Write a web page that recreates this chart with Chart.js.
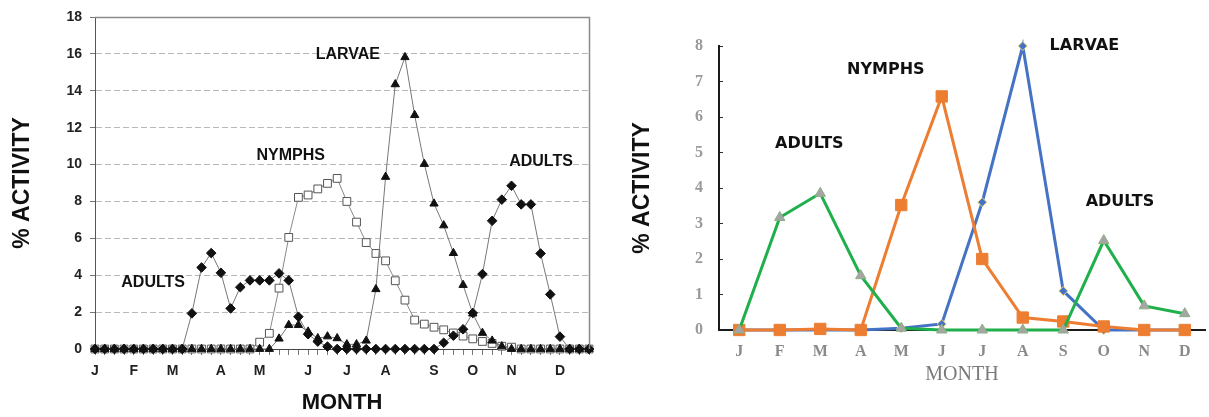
<!DOCTYPE html>
<html>
<head>
<meta charset="utf-8">
<script src="https://cdn.jsdelivr.net/npm/chart.js@4.4.1/dist/chart.umd.min.js"></script>
<style>
html,body{margin:0;padding:0;background:#fff;overflow:hidden;width:1209px;height:417px;position:relative;}
#c1{position:absolute;left:0;top:0;}
#c2{position:absolute;left:600px;top:0;}
</style>
</head>
<body>
<canvas id="c1" width="600" height="417"></canvas>
<canvas id="c2" width="614" height="417"></canvas>
<script>
// ---------- Left chart (weekly data, 52 weeks) ----------
const monthLetters = ['J','F','M','A','M','J','J','A','S','O','N','D'];
const monthStartWeek = [0,4,8,13,17,22,26,30,35,39,43,48];
const weekCount = 52;

const adultsWeekly = [0,0,0,0,0,0,0,0,0,0, 1.93,4.42,5.2,4.13,2.2,3.35,3.72,3.72,3.72,4.1,
  3.72,1.75,0.8,0.4,0.13,0,0,0,0,0, 0,0,0,0,0,0,0.34,0.72,1.07,1.95,
  4.06,6.95,8.1,8.85,7.84,7.84,5.18,2.96,0.67,0, 0,0];
const larvaeWeekly = [0,0,0,0,0,0,0,0,0,0, 0,0,0,0,0,0,0,0,0,0.56,
  1.3,1.3,0.94,0.58,0.68,0.58,0.25,0.25,0.45,3.24, 9.33,14.35,15.82,12.68,10.03,7.88,6.7,5.2,3.47,1.92,
  0.87,0.45,0.14,0,0,0,0,0,0,0, 0,0];
const nymphsWeekly = [0,0,0,0,0,0,0,0,0,0, 0,0,0,0,0,0,0,0.37,0.85,3.3,
  6.05,8.22,8.35,8.68,8.98,9.25,8.0,6.88,5.77,5.18, 4.78,3.7,2.65,1.57,1.35,1.18,1.04,0.87,0.7,0.55,
  0.41,0.3,0.15,0.1,0,0,0,0,0,0, 0,0];

const leftNotes = [
  {text:'ADULTS', x:6.0, y:3.6},
  {text:'NYMPHS', x:20.2, y:10.5},
  {text:'LARVAE', x:26.1, y:15.95},
  {text:'ADULTS', x:46.05, y:10.14}
];

// ---------- Right chart (monthly data) ----------
const months = ['J','F','M','A','M','J','J','A','S','O','N','D'];
const larvaeMonthly = [0,0,0,0,0.05,0.17,3.6,8.0,1.1,0,0,0];
const nymphsMonthly = [0,0,0.03,0,3.52,6.58,2.0,0.35,0.24,0.1,0,0];
const adultsMonthly = [0,3.17,3.85,1.53,0.05,0,0,0,0,2.52,0.68,0.46];

const rightNotes = [
  {text:'ADULTS', x:1.73, y:5.24},
  {text:'NYMPHS', x:3.62, y:7.32},
  {text:'LARVAE', x:8.52, y:8.01},
  {text:'ADULTS', x:9.4, y:3.62}
];

const weekLabels = Array.from({length: weekCount}, (_, i) => {
  const k = monthStartWeek.indexOf(i);
  return k >= 0 ? monthLetters[k] : '';
});

function notesPlugin(items, font, color) {
  return {
    id: 'notes',
    afterDatasetsDraw(chart) {
      const {ctx, scales: {x, y}} = chart;
      ctx.save();
      ctx.font = font;
      ctx.fillStyle = color;
      ctx.textAlign = 'center';
      ctx.textBaseline = 'middle';
      items.forEach(n => ctx.fillText(n.text, x.getPixelForValue(n.x), y.getPixelForValue(n.y)));
      ctx.restore();
    }
  };
}

const boxPlugin = {
  id: 'box',
  afterDraw(chart) {
    const {ctx, chartArea: a} = chart;
    ctx.save();
    ctx.strokeStyle = '#8a8a8a';
    ctx.lineWidth = 1.5;
    ctx.beginPath();
    ctx.moveTo(a.left, a.top + 0.5);
    ctx.lineTo(a.right + 0.5, a.top + 0.5);
    ctx.lineTo(a.right + 0.5, a.bottom);
    ctx.stroke();
    ctx.restore();
  }
};

const sansB = (s) => ({family: "'Liberation Sans', Arial, sans-serif", size: s, weight: 'bold'});
const serif = (s, w) => ({family: "'Liberation Serif', 'Times New Roman', serif", size: s, weight: w || 'normal'});

// Chart.js draws dataset 0 on top, so the topmost series comes first.
new Chart(document.getElementById('c1'), {
  type: 'line',
  data: {
    labels: weekLabels,
    datasets: [
      {data: adultsWeekly, borderColor: '#777', borderWidth: 1, pointStyle: 'rectRot', pointRadius: 4.8, clip: false,
       pointBackgroundColor: '#111', pointBorderColor: '#111', pointBorderWidth: 1, tension: 0},
      {data: larvaeWeekly, borderColor: '#777', borderWidth: 1, pointStyle: 'triangle', pointRadius: 4.8, clip: false,
       pointBackgroundColor: '#111', pointBorderColor: '#111', pointBorderWidth: 1, tension: 0},
      {data: nymphsWeekly, borderColor: '#8a8a8a', borderWidth: 1, pointStyle: 'rect', pointRadius: 5.5, clip: false,
       pointBackgroundColor: '#fff', pointBorderColor: '#555', pointBorderWidth: 1, tension: 0}
    ]
  },
  options: {
    responsive: false, animation: false, devicePixelRatio: 1,
    layout: {padding: {left: 0, right: 11, top: 17, bottom: 0}},
    plugins: {legend: {display: false}, tooltip: {enabled: false}},
    scales: {
      x: {
        type: 'category', offset: false,
        grid: {display: true, drawOnChartArea: false, drawTicks: true, tickLength: 6, tickColor: '#777', tickWidth: 1},
        border: {display: true, color: '#444', width: 1},
        ticks: {autoSkip: false, maxRotation: 0, minRotation: 0, padding: 8, color: '#222', font: sansB(14)},
        title: {display: true, text: 'MONTH', color: '#111', font: sansB(22), padding: {top: 0, bottom: 1}},
        afterFit(s) { s.height = 68; }
      },
      y: {
        min: 0, max: 18,
        ticks: {stepSize: 2, padding: 8, color: '#222', font: sansB(14)},
        grid: {color: '#b8b8b8', lineWidth: 1, tickLength: 5, tickColor: '#777', tickBorderDash: []},
        border: {display: true, color: '#555', width: 1, dash: [6, 3]},
        title: {display: true, text: '% ACTIVITY', color: '#111', font: sansB(23), padding: {top: 9, bottom: 0}},
        afterFit(s) { s.width = 95; }
      }
    }
  },
  plugins: [boxPlugin, notesPlugin(leftNotes, "bold 16px 'Liberation Sans', Arial, sans-serif", '#111')]
});

new Chart(document.getElementById('c2'), {
  type: 'line',
  data: {
    labels: months,
    datasets: [
      {data: adultsMonthly, borderColor: '#1fb04c', borderWidth: 3, pointStyle: 'triangle', pointRadius: 6, clip: false,
       pointBackgroundColor: '#a5a5a5', pointBorderColor: '#8fae86', pointBorderWidth: 1, tension: 0},
      {data: nymphsMonthly, borderColor: '#ED7D31', borderWidth: 3, pointStyle: 'rect', pointRadius: 8, clip: false,
       pointBackgroundColor: '#ED7D31', pointBorderColor: '#ED7D31', pointBorderWidth: 1, tension: 0},
      {data: larvaeMonthly, borderColor: '#4472C4', borderWidth: 3, pointStyle: 'rectRot', pointRadius: 4.5, clip: false,
       pointBackgroundColor: '#4472C4', pointBorderColor: '#f0d27a', pointBorderWidth: 1, tension: 0}
    ]
  },
  options: {
    responsive: false, animation: false, devicePixelRatio: 1,
    layout: {padding: {left: 0, right: 0, top: 46, bottom: 0}},
    plugins: {legend: {display: false}, tooltip: {enabled: false}},
    scales: {
      x: {
        offset: true,
        grid: {display: false, drawTicks: false},
        border: {display: true, color: '#1a1a1a', width: 2},
        ticks: {padding: 12, color: '#8a8a8a', font: serif(16, 'bold')},
        title: {display: true, text: 'MONTH', color: '#7a7a7a', font: serif(20), padding: {top: 0, bottom: 30}},
        afterFit(s) { s.height = 87; }
      },
      y: {
        min: 0, max: 8,
        ticks: {stepSize: 1, padding: 20, color: '#9a9a9a', font: serif(16, 'bold')},
        grid: {display: true, drawOnChartArea: false, drawTicks: true, tickLength: -4, tickColor: '#333', tickWidth: 1},
        border: {display: true, color: '#1a1a1a', width: 2},
        title: {display: true, text: '% ACTIVITY', color: '#111', font: sansB(23), padding: {top: 29, bottom: 0}},
        afterFit(s) { s.width = 119; }
      }
    }
  },
  plugins: [notesPlugin(rightNotes, "bold 16px 'DejaVu Sans', sans-serif", '#111')]
});
</script>
</body>
</html>
